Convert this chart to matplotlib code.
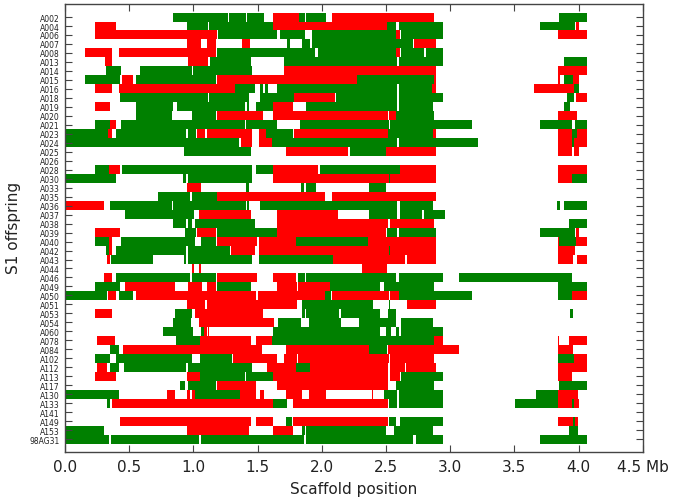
import matplotlib
matplotlib.use('Agg')
import matplotlib.pyplot as plt

#Offspring names, top to bottom
samples = ['A002', 'A004', 'A006', 'A007', 'A008', 'A013', 'A014', 'A015', 'A016', 'A018',
           'A019', 'A020', 'A021', 'A023', 'A024', 'A025', 'A026', 'A028', 'A030', 'A033',
           'A035', 'A036', 'A037', 'A038', 'A039', 'A040', 'A042', 'A043', 'A044', 'A046',
           'A049', 'A050', 'A051', 'A053', 'A054', 'A060', 'A078', 'A084', 'A102', 'A112',
           'A113', 'A117', 'A130', 'A133', 'A141', 'A149', 'A153', '98AG31']

#Green blocks (start, end) in Mb, one list per offspring
green = [
    [(0.84, 1.27), (1.28, 1.41), (1.42, 1.55), (1.82, 1.87), (1.88, 2.03), (3.85, 4.07)],
    [(0.953, 1.117), (1.125, 1.623), (2.51, 2.58), (2.603, 2.943), (3.70, 3.97)],
    [(1.195, 1.655), (1.675, 1.87), (1.922, 2.582), (2.615, 2.943)],
    [(1.73, 1.755), (1.847, 1.909), (1.922, 2.707)],
    [(1.187, 1.948), (1.974, 2.582), (2.615, 2.797), (2.81, 2.943)],
    [(1.13, 1.447), (1.706, 2.585), (2.605, 2.943), (3.887, 4.067)],
    [(0.317, 0.436), (0.584, 0.987), (0.995, 1.46)],
    [(0.156, 0.429), (0.553, 1.177), (2.275, 2.875), (3.887, 3.957)],
    [(1.325, 1.48), (1.52, 1.545), (1.558, 1.58), (1.655, 2.585), (2.605, 2.862), (3.963, 4.0)],
    [(0.429, 1.117), (1.125, 1.436), (1.52, 1.78), (2.11, 2.585), (2.605, 2.943), (3.914, 3.966)],
    [(0.553, 0.844), (0.875, 1.403), (1.42, 1.436), (1.486, 1.623), (1.878, 2.585), (2.605, 2.87), (3.887, 3.937)],
    [(0.553, 0.831), (0.987, 1.177), (2.58, 2.875)],
    [(0.234, 0.351), (0.436, 1.403), (1.41, 1.655), (1.83, 2.525), (2.53, 3.17), (3.70, 3.953), (3.97, 4.067)],
    [(0.0, 0.338), (0.395, 0.94), (0.956, 1.018), (1.566, 1.774), (2.517, 2.867), (3.953, 3.985)],
    [(0.0, 1.358), (1.615, 2.587), (2.603, 3.22), (3.953, 3.966)],
    [(0.927, 1.447), (2.218, 2.504)],
    [],
    [(0.234, 0.345), (0.442, 1.46), (1.486, 1.623), (1.987, 2.608)],
    [(0.0, 0.395), (0.917, 0.943), (0.956, 1.46), (2.525, 2.535), (3.953, 4.067)],
    [(1.41, 1.436), (1.839, 1.862), (1.875, 1.953), (2.369, 2.504)],
    [(0.722, 0.974), (0.992, 1.182)],
    [(0.351, 0.831), (0.844, 1.41), (1.42, 1.436), (1.52, 2.587), (2.613, 2.867), (3.835, 3.859), (3.887, 4.067)],
    [(0.468, 1.008), (2.369, 2.587), (2.608, 2.784), (2.795, 2.963)],
    [(0.844, 0.943), (0.961, 0.987), (1.013, 1.48), (3.925, 4.067)],
    [(0.935, 1.018), (1.187, 1.655), (2.512, 2.587), (2.603, 2.888), (3.70, 3.971)],
    [(0.234, 0.345), (0.436, 1.013), (1.057, 1.177), (1.8, 2.361), (3.85, 3.98)],
    [(0.317, 0.345), (0.395, 0.94), (0.956, 1.286), (2.525, 2.535)],
    [(0.358, 0.683), (0.927, 0.943), (0.956, 1.455), (1.514, 2.086)],
    [],
    [(0.395, 0.974), (0.992, 1.177), (1.813, 1.868), (1.878, 2.582), (2.603, 2.943), (3.068, 3.95)],
    [(0.234, 0.429), (1.187, 1.447), (2.065, 2.457), (2.485, 2.875), (3.84, 4.067)],
    [(0.0, 0.325), (0.423, 0.532), (2.026, 2.073), (2.603, 3.17), (3.84, 3.953)],
    [(1.849, 2.40), (2.525, 2.535)],
    [(0.857, 0.987), (1.85, 1.868), (1.878, 2.135), (2.153, 2.457), (2.517, 2.58), (3.937, 3.958)],
    [(0.844, 0.979), (1.662, 1.839), (1.904, 2.153), (2.29, 2.58), (2.615, 2.867)],
    [(0.766, 0.995), (1.059, 1.083), (1.623, 2.457), (2.498, 2.54), (2.582, 2.6), (2.615, 2.943)],
    [(0.862, 1.052), (1.615, 2.873)],
    [(0.351, 0.423), (2.369, 2.509)],
    [(0.234, 0.351), (0.395, 0.992), (1.052, 1.304), (3.84, 3.963)],
    [(0.351, 0.421), (0.46, 0.943), (0.956, 1.46), (1.8, 1.909)],
    [(1.052, 1.403), (1.41, 1.623), (2.615, 2.943)],
    [(0.896, 0.938), (0.956, 1.177), (2.582, 2.873), (3.846, 4.067)],
    [(0.0, 0.423), (1.013, 1.364), (2.485, 2.587), (2.603, 2.943), (3.67, 3.84)],
    [(0.33, 0.351), (1.623, 1.727), (2.525, 2.587), (2.603, 2.943), (3.503, 3.84), (3.953, 3.966)],
    [],
    [(1.722, 1.766), (2.525, 2.582), (2.608, 2.943), (3.96, 3.97)],
    [(0.0, 0.304), (1.844, 1.87), (1.878, 2.504), (2.561, 2.867), (3.925, 3.996)],
    [(0.0, 0.343), (0.356, 1.047), (1.06, 1.862), (1.875, 2.712), (2.733, 2.943), (3.70, 4.067)],
]

#Red blocks (start, end) in Mb, one list per offspring
red = [
    [(1.62, 1.82), (2.08, 2.875)],
    [(0.234, 0.395), (1.623, 2.509), (3.98, 4.0)],
    [(0.234, 1.182), (2.582, 2.608), (3.84, 4.067)],
    [(0.948, 1.06), (1.109, 1.177), (1.377, 1.442), (2.72, 2.888)],
    [(0.156, 0.364), (0.423, 1.177), (2.582, 2.608)],
    [(0.312, 0.364), (0.956, 1.117)],
    [(1.706, 2.888), (3.84, 4.067)],
    [(0.442, 0.532), (1.187, 2.275), (2.875, 2.888), (3.84, 3.855), (3.957, 4.0)],
    [(0.234, 0.364), (0.423, 1.325), (2.862, 2.888), (3.65, 3.963)],
    [(1.78, 2.10), (3.98, 4.067)],
    [(0.234, 0.351), (1.623, 1.774)],
    [(1.187, 1.54), (1.623, 2.517), (2.52, 2.58), (3.84, 3.99)],
    [(0.351, 0.395)],
    [(0.338, 0.364), (1.026, 1.09), (1.109, 1.46), (1.514, 1.566), (1.784, 2.517), (2.87, 2.888), (3.84, 3.953), (3.985, 4.067)],
    [(1.369, 1.46), (1.514, 1.615), (3.84, 3.953), (3.966, 4.067)],
    [(1.722, 2.208), (2.504, 2.888), (3.84, 3.95), (3.966, 4.0)],
    [],
    [(0.345, 0.429), (1.623, 1.969), (2.608, 2.888), (3.84, 4.067)],
    [(1.623, 2.525), (2.535, 2.888), (3.84, 3.953)],
    [(0.948, 1.06)],
    [(1.187, 2.026), (2.078, 2.888)],
    [(0.008, 0.304)],
    [(1.042, 1.447), (1.655, 2.127)],
    [(1.649, 2.517), (2.535, 2.875)],
    [(0.234, 0.429), (1.026, 1.177), (1.655, 2.504), (3.98, 4.0)],
    [(0.345, 0.364), (1.187, 1.499), (1.514, 1.8), (2.361, 2.888), (3.84, 3.85), (3.98, 4.067)],
    [(0.345, 0.364), (1.294, 1.48), (1.514, 2.525), (2.535, 2.888), (3.84, 3.971)],
    [(0.33, 0.351), (2.086, 2.647), (2.665, 2.888), (3.84, 3.96), (3.985, 4.067)],
    [(0.992, 1.008), (1.044, 1.057), (2.314, 2.512)],
    [(0.306, 0.364), (1.187, 1.499), (1.623, 1.8)],
    [(0.468, 0.857), (0.961, 1.065), (1.104, 1.177), (1.655, 1.805), (1.818, 2.065)],
    [(0.335, 0.395), (0.553, 1.486), (1.506, 2.026), (2.078, 2.525), (2.535, 2.6), (3.953, 4.067)],
    [(0.948, 1.09), (1.104, 1.805), (2.665, 2.888)],
    [(0.234, 0.364), (1.013, 1.545)],
    [(1.044, 1.629)],
    [(1.083, 1.105), (1.115, 1.125)],
    [(0.252, 0.39), (1.052, 1.447), (1.486, 1.615), (2.873, 2.943), (3.84, 3.85), (3.925, 4.067)],
    [(0.455, 1.532), (1.722, 2.369), (2.517, 3.068), (3.84, 3.96)],
    [(1.312, 1.655), (1.709, 1.805), (1.818, 2.525), (2.535, 2.875), (3.963, 4.067)],
    [(0.252, 0.33), (1.571, 1.8), (1.909, 2.517), (2.535, 2.647), (2.66, 2.888), (3.84, 4.067)],
    [(0.234, 0.395), (0.948, 1.052), (1.623, 2.517), (2.535, 2.608), (3.84, 3.95)],
    [(1.187, 1.486), (1.655, 2.517)],
    [(0.792, 0.857), (0.948, 0.974), (0.987, 1.013), (1.364, 1.486), (1.519, 1.551), (1.722, 1.844), (1.904, 2.034), (2.395, 2.402), (3.84, 3.996)],
    [(0.364, 1.623), (1.774, 2.517), (3.84, 3.953), (3.966, 4.0)],
    [],
    [(0.429, 1.447), (1.486, 1.623), (1.774, 2.517), (3.84, 3.96), (3.97, 3.995)],
    [(0.948, 1.436), (1.623, 1.774)],
    [],
]

x_ticks = [0.0, 0.5, 1.0, 1.5, 2.0, 2.5, 3.0, 3.5, 4.0, 4.5]
x_labels = ['0.0', '0.5', '1.0', '1.5', '2.0', '2.5', '3.0', '3.5', '4.0', '4.5 Mb']

fig = plt.figure(figsize=(6.73, 5.02), dpi=100)
ax = fig.add_axes([65 / 673, 1 - 452.7 / 502, 577.7 / 673, 447.7 / 502])

#broken_barh wants (start, width)
def widths(blocks):
    return [(a, b - a) for a, b in blocks]

#Draw the blocks
for i in range(len(samples)):
    ax.broken_barh(widths(green[i]), (i - 0.5, 1.0), facecolors=(0, 0.5, 0), edgecolor='none')
    ax.broken_barh(widths(red[i]), (i - 0.5, 1.0), facecolors=(1, 0, 0), edgecolor='none')

ax.set_xlim(0, 4.5)
ax.set_ylim(48.4, -1.45)

ax.set_xticks(x_ticks)
ax.set_xticklabels(x_labels, fontsize=11)
ax.set_yticks(range(len(samples)))
ax.set_yticklabels(samples, fontsize=5.5)
ax.tick_params(axis='x', direction='in', top=True, length=5, width=0.8, color='#444444', pad=5, labelcolor='#222222')
ax.tick_params(axis='y', direction='in', right=True, length=5, width=0.8, color='#444444', pad=4, labelcolor='#222222')

for spine in ax.spines.values():
    spine.set_color('#444444')
    spine.set_linewidth(1.0)

ax.set_xlabel('Scaffold position', fontsize=11, color='#222222', labelpad=5)
fig.text(13.5 / 673, 1 - 228 / 502, 'S1 offspring', rotation=90, fontsize=11, color='#222222', ha='center', va='center')

fig.savefig('out.png', dpi=100)
